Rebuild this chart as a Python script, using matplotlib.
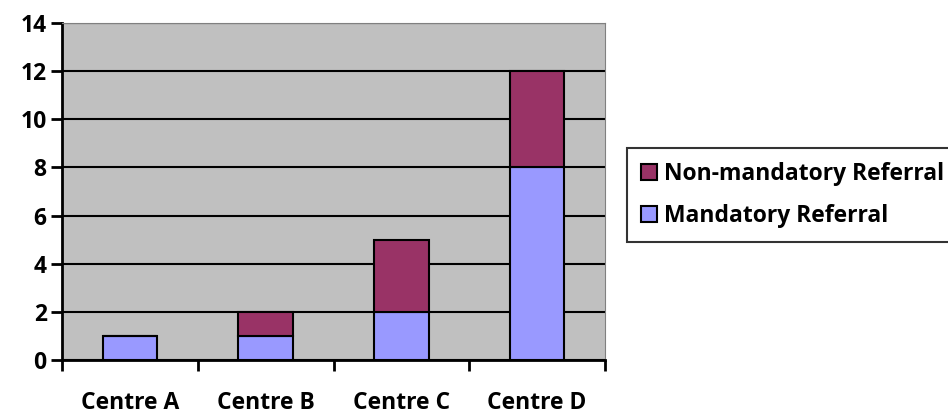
import matplotlib.pyplot as plt
import numpy as np

plt.rcParams['font.family'] = ['Open Sans', 'DejaVu Sans']
plt.rcParams['font.weight'] = 'bold'

centres = ["Centre A", "Centre B", "Centre C", "Centre D"]
mandatory = [1, 1, 2, 8]
non_mandatory = [0, 1, 3, 4]

fig = plt.figure(figsize=(9.48, 4.15), dpi=100)
ax = fig.add_axes([0.0654, 0.1325, 0.5728, 0.8121])
ax.set_facecolor('#C0C0C0')

x = np.arange(len(centres))
b1 = ax.bar(x, mandatory, width=0.4, color='#9999FF', edgecolor='black', linewidth=1.5,
            label='Mandatory Referral', zorder=3)
b2 = ax.bar(x, non_mandatory, width=0.4, bottom=mandatory, color='#993366', edgecolor='black',
            linewidth=1.5, label='Non-mandatory Referral', zorder=3)

ax.set_xlim(-0.5, 3.5)
ax.set_ylim(0, 14)
ax.set_yticks(range(0, 15, 2))
ax.grid(axis='y', color='black', linewidth=1.5, zorder=1)

# category ticks sit on the boundaries, labels in the middle
ax.set_xticks(np.arange(-0.5, 4, 1))
ax.set_xticklabels([])
ax.set_xticks(x, minor=True)
ax.set_xticklabels(centres, minor=True, fontsize=16.5, fontweight='bold')
ax.tick_params(axis='x', which='minor', length=0, pad=22)
ax.tick_params(axis='x', which='major', length=8, width=2, direction='out')
ax.tick_params(axis='y', length=8, width=2, labelsize=16.5, pad=3)

ax.spines['left'].set_linewidth(2)
ax.spines['bottom'].set_linewidth(2)
ax.spines['top'].set_color('#808080')
ax.spines['right'].set_color('#808080')

handles = [b2, b1]
leg = fig.legend(handles, [h.get_label() for h in handles], loc='upper left',
                 bbox_to_anchor=(627 / 948, 1 - 148 / 415), fontsize=16.5, frameon=True,
                 fancybox=False, edgecolor='black', handlelength=0.7, handleheight=0.7,
                 handletextpad=0.3, borderpad=0.6, labelspacing=0.8, borderaxespad=0)
leg.get_frame().set_linewidth(1.5)

plt.savefig('out.png', dpi=100)
